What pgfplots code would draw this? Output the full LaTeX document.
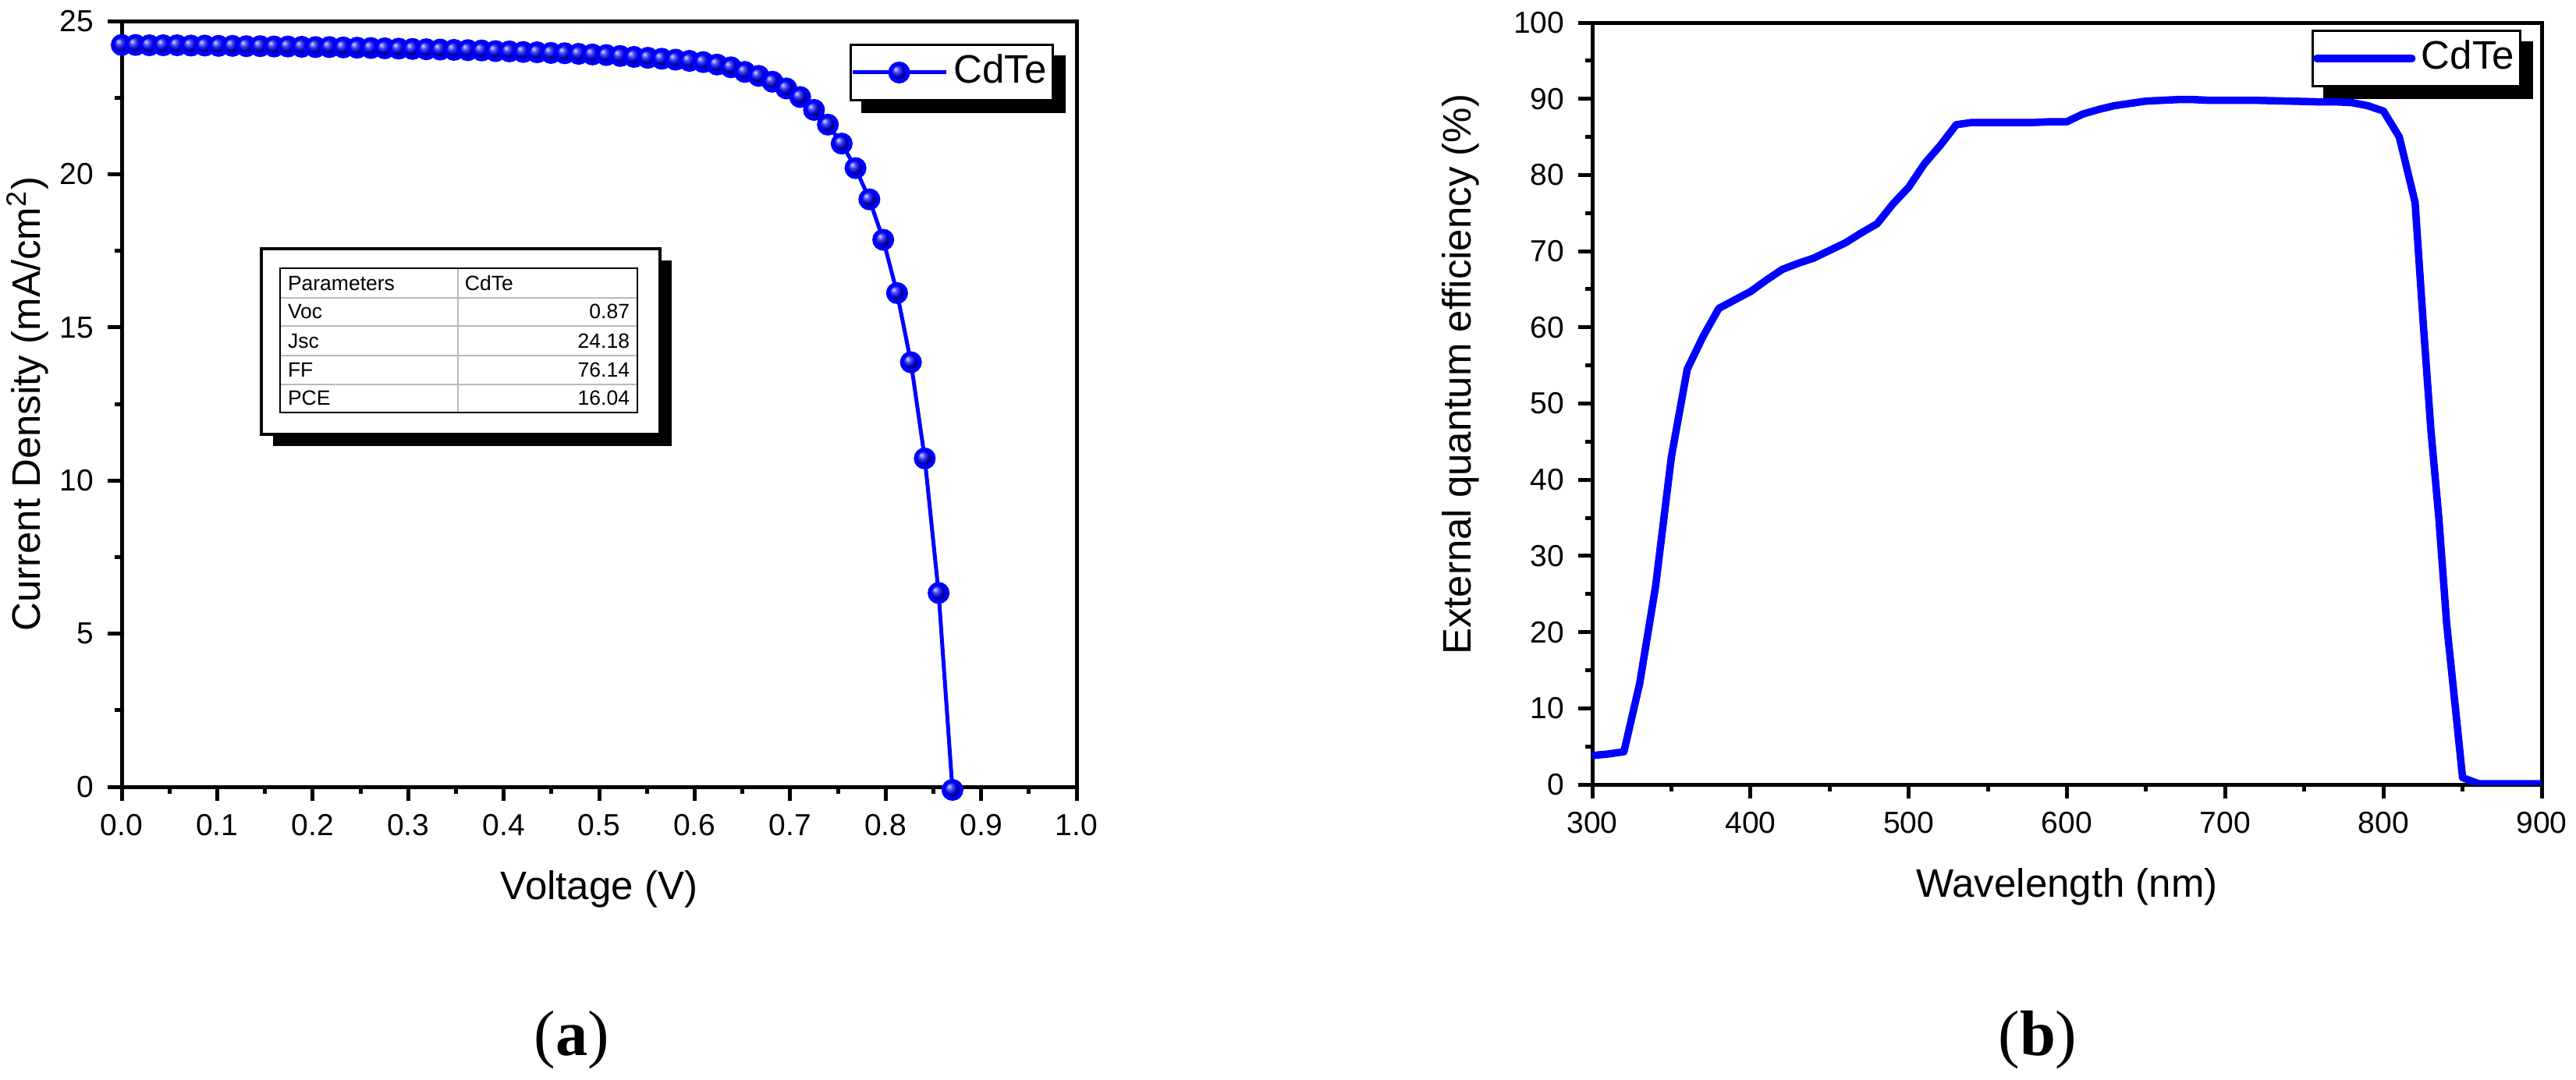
\documentclass[border=0pt]{standalone}
\usepackage{pgfplots}
\pgfplotsset{compat=1.18}
\usepackage{fontspec}
\setmainfont{Liberation Sans}
\newfontfamily\serifb{Liberation Serif}
\pgfdeclarelayer{background}
\pgfsetlayers{background,main}
\begin{document}
\begin{tikzpicture}
\useasboundingbox (0,0) rectangle (660.4pt,-276.8pt);
\pgfplotsset{
  myaxis/.style={
    scale only axis,
    axis line style={line width=1pt},
    tick style={line width=1pt, black},
    major tick length=3.6pt,
    minor tick length=1.8pt,
    tick align=outside,
    xtick pos=left, ytick pos=left,
    minor x tick num=1, minor y tick num=1,
    tick label style={font=\fontsize{7.8}{9}\selectfont},
    label style={font=\fontsize{10.2}{12}\selectfont},
    /pgf/number format/assume math mode=true,
    legend style={font=\fontsize{10.2}{12}\selectfont, draw=black, line width=0.6pt, fill=white,
      inner xsep=0pt, inner ysep=0pt,
      nodes={inner xsep=1.5pt, inner ysep=2.2pt, text height=7.6pt, text depth=2.2pt}},
    legend cell align=left,
  }
}
\begin{axis}[myaxis, at={(31.2pt,-201.8pt)}, anchor=south west, width=244.8pt, height=196.4pt,
  xmin=0, xmax=1, ymin=0, ymax=25,
  xtick={0,0.1,0.2,0.3,0.4,0.5,0.6,0.7,0.8,0.9,1.0}, ytick={0,5,10,15,20,25},
  x tick label style={/pgf/number format/fixed, /pgf/number format/fixed zerofill, /pgf/number format/precision=1},
  xlabel={Voltage (V)}, ylabel={Current Density (mA/cm\textsuperscript{2})},
  xlabel style={at={(axis description cs:0.5,-0.1466)}, anchor=base},
  ylabel style={at={(axis description cs:-0.085,0.5)}, anchor=base},
  clip=false,
  legend style={at={(axis description cs:0.976,0.9705)}, anchor=north east, name=legA},
  legend image code/.code={\draw[mark repeat=2,mark phase=2,#1] plot coordinates {(0pt,0pt)(12pt,0pt)(24pt,0pt)};},
]
\addplot[blue, line width=1pt, mark=ball, mark size=2.3pt, mark options={ball color=blue}] table {
V J
0.0000 24.22
0.0145 24.22
0.0290 24.21
0.0435 24.21
0.0580 24.21
0.0725 24.20
0.0870 24.20
0.1015 24.19
0.1160 24.19
0.1305 24.18
0.1450 24.18
0.1595 24.17
0.1740 24.17
0.1885 24.16
0.2030 24.15
0.2175 24.15
0.2320 24.14
0.2465 24.13
0.2610 24.12
0.2755 24.11
0.2900 24.10
0.3045 24.09
0.3190 24.08
0.3335 24.07
0.3480 24.06
0.3625 24.05
0.3770 24.04
0.3915 24.02
0.4060 24.01
0.4205 23.99
0.4350 23.98
0.4495 23.96
0.4640 23.95
0.4785 23.93
0.4930 23.91
0.5075 23.89
0.5220 23.86
0.5365 23.83
0.5510 23.80
0.5655 23.77
0.5800 23.74
0.5945 23.70
0.6090 23.66
0.6235 23.58
0.6380 23.49
0.6525 23.34
0.6670 23.21
0.6815 23.02
0.6960 22.80
0.7105 22.52
0.7250 22.10
0.7395 21.62
0.7540 21.00
0.7685 20.20
0.7830 19.18
0.7975 17.86
0.8120 16.12
0.8265 13.86
0.8410 10.72
0.8555 6.33
0.8700 -0.10
};
\legend{CdTe}
\end{axis}

\begin{axis}[myaxis, at={(408.2pt,-201.2pt)}, anchor=south west, width=243.4pt, height=195.4pt,
  xmin=300, xmax=900, ymin=0, ymax=100,
  xtick={300,400,500,600,700,800,900}, ytick={0,10,20,30,40,50,60,70,80,90,100},
  xlabel={Wavelength (nm)}, ylabel={External quantum efficiency (\%)},
  xlabel style={at={(axis description cs:0.5,-0.1474)}, anchor=base},
  ylabel style={at={(axis description cs:-0.128,0.538)}, anchor=base},
  legend style={at={(axis description cs:0.9786,0.9908)}, anchor=north east, name=legB},
  legend image code/.code={\draw[#1] (0pt,0pt) -- (24.4pt,0pt);},
]
\addplot[blue, line width=1.9pt, line join=round, line cap=round] table {
W E
300 3.8
310 4.0
320 4.3
330 13.3
340 26.0
350 43.0
360 54.5
370 58.8
380 62.5
390 63.6
400 64.7
410 66.2
420 67.6
430 68.4
440 69.1
450 70.1
460 71.1
470 72.4
480 73.6
490 76.2
500 78.4
510 81.5
520 83.9
530 86.6
540 86.9
550 86.9
560 86.9
570 86.9
580 86.9
590 87.0
600 87.0
610 88.0
620 88.6
630 89.1
640 89.4
650 89.7
660 89.8
670 89.9
680 89.9
690 89.8
700 89.8
720 89.8
740 89.7
760 89.6
770 89.6
780 89.5
790 89.1
800 88.4
810 85.0
820 76.4
825 61.0
830 46.5
835 35.0
840 21.0
845 11.0
850 0.9
860 0.1
900 0.1
};
\legend{CdTe}
\end{axis}

\begin{pgfonlayer}{background}
\fill[black] ([shift={(3pt,-3pt)}]legA.south west) rectangle ([shift={(3pt,-3pt)}]legA.north east);
\fill[black] ([shift={(3pt,-3pt)}]legB.south west) rectangle ([shift={(3pt,-3pt)}]legB.north east);
\end{pgfonlayer}

\begin{scope}[x=0.2pt, y=-0.2pt]
\fill[black] (350,334) rectangle (861,572);
\draw[line width=0.8pt, fill=white] (335,319) rectangle (846,557);
\draw[gray!55, line width=0.45pt] (359,382) -- (817,382) (359,418) -- (817,418) (359,456) -- (817,456) (359,493) -- (817,493) (587,344) -- (587,529);
\draw[black, line width=0.45pt] (359,344) rectangle (817,529);
\begin{scope}[every node/.style={inner sep=0pt, font=\fontsize{5.3}{6}\selectfont}]
\node[anchor=base west] at (368,372) {Parameters};
\node[anchor=base west] at (595,372) {CdTe};
\node[anchor=base west] at (368,408) {Voc};
\node[anchor=base west] at (368,446) {Jsc};
\node[anchor=base west] at (368,483) {FF};
\node[anchor=base west] at (368,519) {PCE};
\node[anchor=base east] at (808,408) {0.87};
\node[anchor=base east] at (808,446) {24.18};
\node[anchor=base east] at (808,483) {76.14};
\node[anchor=base east] at (808,519) {16.04};
\end{scope}
\node[anchor=base, inner sep=0pt, font=\serifb\fontsize{16.5}{18}\selectfont] at (733,1353) {(\textbf{a})};
\node[anchor=base, inner sep=0pt, font=\serifb\fontsize{16.5}{18}\selectfont] at (2612,1353) {(\textbf{b})};
\end{scope}
\end{tikzpicture}
\end{document}
